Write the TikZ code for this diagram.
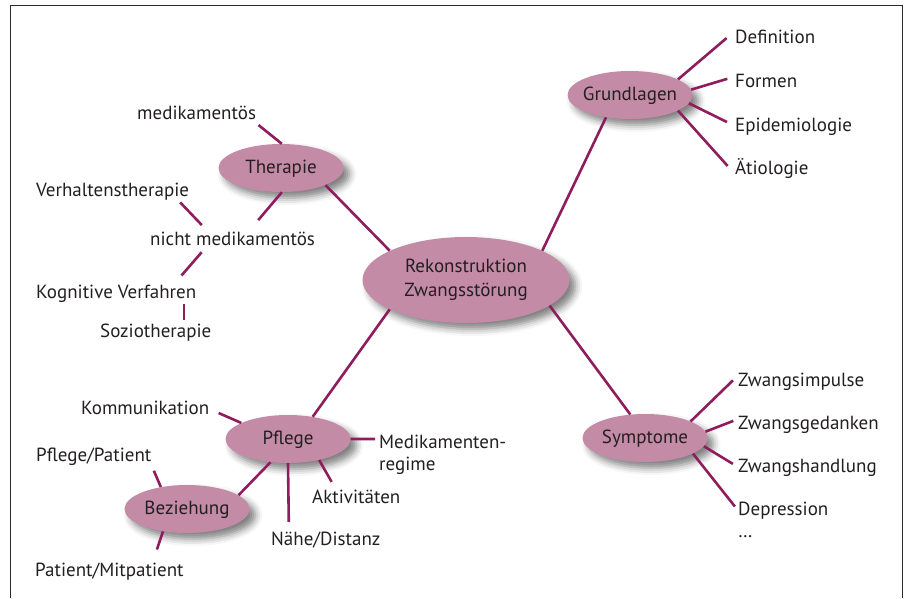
\documentclass[tikz,border=0pt]{standalone}
\usepackage{fontspec}
\setmainfont{PT Sans}
\usetikzlibrary{shapes.geometric,shadows.blur}
\definecolor{knoten}{HTML}{C48BA6}
\definecolor{linie}{HTML}{8F1D5E}
\definecolor{schrift}{HTML}{231F20}
\definecolor{rahmen}{HTML}{2B2B2B}

\begin{document}
\begin{tikzpicture}[x=1pt,y=-1pt,font=\fontsize{19}{22}\selectfont,text=schrift]

        \useasboundingbox (0,0) rectangle (904,598);
        \draw[rahmen,line width=1.1pt] (10.5,598) -- (10.5,5.5) -- (902.5,5.5) -- (902.5,598);

        \begin{scope}[every node/.style={ellipse,fill=knoten,inner xsep=-8pt,inner ysep=0pt,
            text height=14pt,text depth=4pt,minimum width=125pt,minimum height=48pt,
            blur shadow={shadow xshift=6pt,shadow yshift=-6pt,shadow blur radius=7pt,shadow opacity=50}}]
          \node (zentrum)    at (466,280) [minimum width=207pt,minimum height=86pt,inner sep=0pt,
            text height={},text depth={},align=center,font=\fontsize{19}{24}\selectfont] {Rekonstruktion\\Zwangsstörung};
          \node (therapie)   at (281,168) {Therapie};
          \node (grundlagen) at (630,95)  {Grundlagen};
          \node (pflege)     at (288,439) {Pflege};
          \node (beziehung)  at (187,509) {Beziehung};
          \node (symptome)   at (645,438) {Symptome};
        \end{scope}

        \begin{scope}[every node/.style={anchor=base west,inner sep=0pt,text height=14pt,text depth=4pt}]
          \node (medik)   at (137,119) {medikamentös};
          \node (verh)    at (36,196)  {Verhaltenstherapie};
          \node (nmedik)  at (150,245) {nicht medikamentös};
          \node (kog)     at (36,298)  {Kognitive Verfahren};
          \node (sozio)   at (100,337) {Soziotherapie};
          \node (def)     at (735,43)  {Definition};
          \node (formen)  at (735,87)  {Formen};
          \node (epi)     at (735,131) {Epidemiologie};
          \node (aet)     at (735,174) {Ätiologie};
          \node (komm)    at (81,414)  {Kommunikation};
          \node (medi)    at (379,435) [anchor=north west,text height={},text depth={},align=left] {Medikamenten-\\regime};
          \node (akt)     at (312,503) {Aktivitäten};
          \node (naehe)   at (271,545) {Nähe/Distanz};
          \node (pp)      at (36,461)  {Pflege/Patient};
          \node (pm)      at (35,576)  {Patient/Mitpatient};
          \node (zimp)    at (738,386) {Zwangsimpulse};
          \node (zged)    at (738,429) {Zwangsgedanken};
          \node (zhand)   at (738,472) {Zwangshandlung};
          \node (depr)    at (738,502) [anchor=north west,text height={},text depth={},align=left] {Depression\\…};
        \end{scope}

        \begin{scope}[every edge/.style={draw=linie,line width=2.6pt}]
          \path (zentrum.159) edge (therapie.-21);
          \path (zentrum.21)  edge (grundlagen.223);
          \path (zentrum.201) edge (pflege.42);
          \path (zentrum.-17) edge (symptome.122);

          \path (therapie.88)  edge[shorten >=3pt]  (medik.south east);
          \path (therapie.-88) edge[shorten >=14pt] (nmedik.29);
          \path (verh.-8)      edge[shorten <=3pt,shorten >=8pt]  (nmedik.160);
          \path (nmedik.198)   edge[shorten <=4pt,shorten >=11pt] (kog.9);
          \path (sozio.18.8 |- kog.south) edge[shorten <=2pt,shorten >=3pt] (sozio.18.8);

          \path (grundlagen.18)  edge[shorten >=11pt] (def.170);
          \path (grundlagen.5)   edge[shorten >=8pt]  (formen.170);
          \path (grundlagen.-8)  edge[shorten >=9pt]  (epi.west);
          \path (grundlagen.-18) edge[shorten >=11pt] (aet.188);

          \path (symptome.20)  edge[shorten >=7pt] (zimp.175);
          \path (symptome.6)   edge[shorten >=5pt] (zged.176);
          \path (symptome.-8)  edge[shorten >=6pt] (zhand.west);
          \path (symptome.-18) edge[shorten >=5pt] (depr.168);

          \path (pflege.161) edge[shorten >=10pt] (komm.east);
          \path (pflege.0)   edge[shorten >=4pt]  (medi.166);
          \path (pflege.-34) edge[shorten >=8pt]  (akt.156);
          \path (pflege.-90) edge[shorten >=9pt]  (naehe.166);
          \path (pflege.233) edge (beziehung.15);

          \path (beziehung.140) edge[shorten >=6pt]  (pp.south east);
          \path (beziehung.223) edge[shorten >=13pt] (pm.12);
        \end{scope}

      \end{tikzpicture}
\end{document}
